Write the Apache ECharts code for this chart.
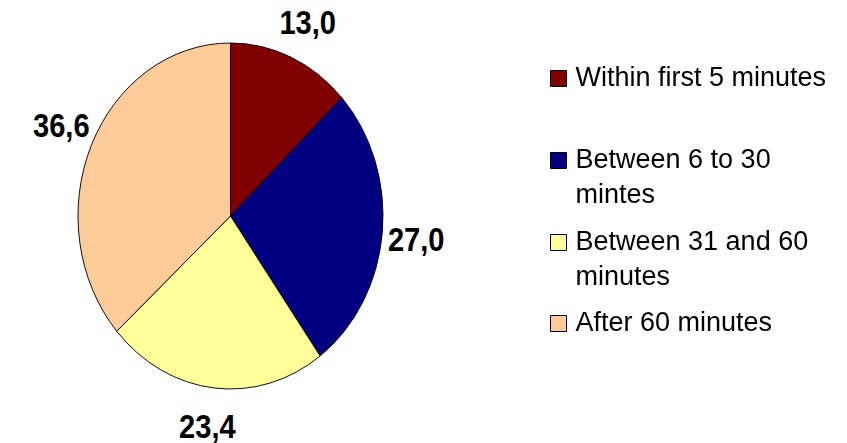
<!DOCTYPE html>
<html>
<head>
<meta charset="utf-8">
<script src="https://cdn.jsdelivr.net/npm/echarts@6/dist/echarts.min.js"></script>
<style>
  html, body { margin: 0; padding: 0; background: #fff; }
  #wrap { position: relative; width: 847px; height: 443px; overflow: hidden; }
  /* pie drawn as circle, then squeezed into an ellipse like the original */
  #pie { position: absolute; left: -100px; top: 0; width: 661px; height: 443px;
         transform: scaleX(0.8815); transform-origin: 330.5px 50%; }
  #leg { position: absolute; left: 0; top: 0; width: 847px; height: 443px; }
</style>
</head>
<body>
<div id="wrap">
  <div id="pie"></div>
  <div id="leg"></div>
</div>
<script>
var categories = ['Within first 5 minutes', 'Between 6 to 30\nmintes', 'Between 31 and 60\nminutes', 'After 60 minutes'];
var values = [13.0, 27.0, 23.4, 36.6];
var colors = ['#800000', '#000080', '#FFFF99', '#FFCC99'];

var pieData = categories.map(function (c, i) {
    return { name: c, value: values[i], itemStyle: { color: colors[i] } };
});
// same values, no colour: for the invisible label ring
var labelData = categories.map(function (c, i) {
    return { name: c, value: values[i] };
});

function fmt(p) {
    return p.value.toFixed(1).replace('.', ',');
}

var pieChart = echarts.init(document.getElementById('pie'), null, { renderer: 'svg' });
pieChart.setOption({
    animation: false,
    series: [
        {
            type: 'pie',
            center: ['50%', 216],
            radius: 173,
            startAngle: 90,
            clockwise: true,
            silent: true,
            label: { show: false },
            labelLine: { show: false },
            itemStyle: { borderColor: '#000', borderWidth: 1 },
            emphasis: { disabled: true },
            data: pieData
        },
        {
            // invisible ring only used to place the value labels
            type: 'pie',
            center: ['50%', 216],
            radius: [202, 216],
            startAngle: 89,
            clockwise: true,
            silent: true,
            itemStyle: { color: 'rgba(0,0,0,0)', borderWidth: 0 },
            label: {
                show: true,
                position: 'inside',
                formatter: fmt,
                color: '#000',
                fontSize: 33,
                fontWeight: 'bold',
                fontFamily: 'Liberation Sans, Arial, sans-serif'
            },
            labelLine: { show: false },
            emphasis: { disabled: true },
            data: labelData
        }
    ]
});

// one legend per entry so each one sits where the original has it
var legendTops = [56, 103, 185, 301];
var legends = categories.map(function (c, i) {
    var twoLines = c.indexOf('\n') >= 0;
    return {
        orient: 'vertical',
        left: 545,
        top: legendTops[i],
        icon: 'rect',
        itemWidth: 16,
        itemHeight: 16,
        itemStyle: { borderColor: '#000', borderWidth: 1 },
        selectedMode: false,
        data: [c],
        // empty first line so the box lines up with the first text line
        formatter: function (name) { return twoLines ? '\n' + name : name; },
        textStyle: {
            color: '#000',
            fontSize: 27,
            lineHeight: 35,
            fontFamily: 'Liberation Sans, Arial, sans-serif',
            padding: [0, 0, 0, 4]
        }
    };
});

var legChart = echarts.init(document.getElementById('leg'));
legChart.setOption({
    animation: false,
    legend: legends,
    series: [{
        type: 'pie',
        radius: 0,
        center: [-100, -100],
        silent: true,
        label: { show: false },
        data: pieData
    }]
});
</script>
</body>
</html>
